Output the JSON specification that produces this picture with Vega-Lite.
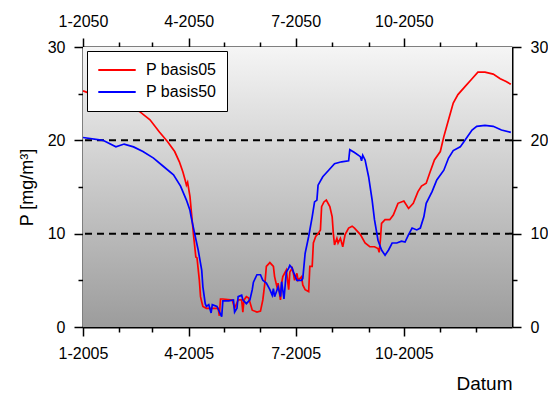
{
  "$schema": "https://vega.github.io/schema/vega-lite/v6.json",
  "width": 429,
  "height": 280,
  "autosize": {"type": "none"},
  "padding": {"left": 83, "top": 47, "right": 36, "bottom": 74},
  "background": "white",
  "config": {
    "view": {"stroke": null},
    "font": "Liberation Sans",
    "axis": {"domainColor": "black", "domainWidth": 2, "tickColor": "black", "tickWidth": 1.5, "labelColor": "black", "labelFontSize": 16, "labelFont": "Liberation Sans", "labelPadding": 9, "grid": false, "zindex": 1, "titleColor": "black", "titleFontWeight": "normal", "titleFont": "Liberation Sans", "labelFlush": false, "labelOverlap": false, "labelBound": false},
    "legend": {"orient": "top-left", "offset": 4, "symbolType": "stroke", "symbolSize": 1400, "symbolStrokeWidth": 2, "labelFontSize": 16, "labelFont": "Liberation Sans", "labelColor": "black", "labelOffset": 9, "padding": 10, "strokeColor": "black", "fillColor": "white", "rowPadding": 4, "clipHeight": 18}
  },
  "datasets": {
    "bg": [{"t0": "2005-01-01", "t1": "2006-01-01", "lo": 0, "hi": 30}],
    "ref": [{"p": 10}, {"p": 20}],
    "series": [
      {"d": "2005-01-01", "s": "P basis05", "p": 25.3},
      {"d": "2005-02-18", "s": "P basis05", "p": 23.1},
      {"d": "2005-02-27", "s": "P basis05", "p": 22.2},
      {"d": "2005-03-07", "s": "P basis05", "p": 20.9},
      {"d": "2005-03-14", "s": "P basis05", "p": 19.85},
      {"d": "2005-03-20", "s": "P basis05", "p": 18.8},
      {"d": "2005-03-24", "s": "P basis05", "p": 17.7},
      {"d": "2005-03-27", "s": "P basis05", "p": 16.6},
      {"d": "2005-03-29", "s": "P basis05", "p": 15.7},
      {"d": "2005-03-30", "s": "P basis05", "p": 15.2},
      {"d": "2005-03-31", "s": "P basis05", "p": 15.5},
      {"d": "2005-04-02", "s": "P basis05", "p": 14.0},
      {"d": "2005-04-03", "s": "P basis05", "p": 12.6},
      {"d": "2005-04-05", "s": "P basis05", "p": 9.9},
      {"d": "2005-04-07", "s": "P basis05", "p": 7.5},
      {"d": "2005-04-08", "s": "P basis05", "p": 7.4},
      {"d": "2005-04-10", "s": "P basis05", "p": 5.0},
      {"d": "2005-04-11", "s": "P basis05", "p": 3.25},
      {"d": "2005-04-12", "s": "P basis05", "p": 2.7},
      {"d": "2005-04-13", "s": "P basis05", "p": 2.2},
      {"d": "2005-04-16", "s": "P basis05", "p": 2.0},
      {"d": "2005-04-22", "s": "P basis05", "p": 2.0},
      {"d": "2005-04-26", "s": "P basis05", "p": 2.0},
      {"d": "2005-04-27", "s": "P basis05", "p": 1.2},
      {"d": "2005-04-28", "s": "P basis05", "p": 3.0},
      {"d": "2005-04-30", "s": "P basis05", "p": 3.0},
      {"d": "2005-05-08", "s": "P basis05", "p": 2.9},
      {"d": "2005-05-10", "s": "P basis05", "p": 2.0},
      {"d": "2005-05-12", "s": "P basis05", "p": 2.6},
      {"d": "2005-05-13", "s": "P basis05", "p": 2.9},
      {"d": "2005-05-16", "s": "P basis05", "p": 2.9},
      {"d": "2005-05-17", "s": "P basis05", "p": 1.6},
      {"d": "2005-05-18", "s": "P basis05", "p": 2.9},
      {"d": "2005-05-20", "s": "P basis05", "p": 3.25},
      {"d": "2005-05-22", "s": "P basis05", "p": 3.1},
      {"d": "2005-05-25", "s": "P basis05", "p": 1.8},
      {"d": "2005-05-29", "s": "P basis05", "p": 1.6},
      {"d": "2005-06-01", "s": "P basis05", "p": 1.7},
      {"d": "2005-06-03", "s": "P basis05", "p": 2.9},
      {"d": "2005-06-05", "s": "P basis05", "p": 5.0},
      {"d": "2005-06-06", "s": "P basis05", "p": 6.5},
      {"d": "2005-06-09", "s": "P basis05", "p": 6.9},
      {"d": "2005-06-12", "s": "P basis05", "p": 6.5},
      {"d": "2005-06-13", "s": "P basis05", "p": 5.4},
      {"d": "2005-06-15", "s": "P basis05", "p": 4.3},
      {"d": "2005-06-16", "s": "P basis05", "p": 4.7},
      {"d": "2005-06-18", "s": "P basis05", "p": 2.9},
      {"d": "2005-06-19", "s": "P basis05", "p": 4.7},
      {"d": "2005-06-20", "s": "P basis05", "p": 5.4},
      {"d": "2005-06-23", "s": "P basis05", "p": 6.1},
      {"d": "2005-06-25", "s": "P basis05", "p": 4.0},
      {"d": "2005-06-26", "s": "P basis05", "p": 5.9},
      {"d": "2005-06-28", "s": "P basis05", "p": 6.3},
      {"d": "2005-06-29", "s": "P basis05", "p": 5.75},
      {"d": "2005-06-30", "s": "P basis05", "p": 5.0},
      {"d": "2005-07-02", "s": "P basis05", "p": 5.75},
      {"d": "2005-07-03", "s": "P basis05", "p": 5.0},
      {"d": "2005-07-06", "s": "P basis05", "p": 5.4},
      {"d": "2005-07-07", "s": "P basis05", "p": 4.5},
      {"d": "2005-07-09", "s": "P basis05", "p": 4.0},
      {"d": "2005-07-12", "s": "P basis05", "p": 3.8},
      {"d": "2005-07-13", "s": "P basis05", "p": 6.5},
      {"d": "2005-07-15", "s": "P basis05", "p": 6.5},
      {"d": "2005-07-16", "s": "P basis05", "p": 9.0},
      {"d": "2005-07-18", "s": "P basis05", "p": 9.7},
      {"d": "2005-07-20", "s": "P basis05", "p": 10.0},
      {"d": "2005-07-22", "s": "P basis05", "p": 10.4},
      {"d": "2005-07-23", "s": "P basis05", "p": 12.9},
      {"d": "2005-07-25", "s": "P basis05", "p": 13.4},
      {"d": "2005-07-27", "s": "P basis05", "p": 13.6},
      {"d": "2005-07-30", "s": "P basis05", "p": 12.9},
      {"d": "2005-08-01", "s": "P basis05", "p": 11.8},
      {"d": "2005-08-02", "s": "P basis05", "p": 10.0},
      {"d": "2005-08-03", "s": "P basis05", "p": 8.8},
      {"d": "2005-08-05", "s": "P basis05", "p": 9.5},
      {"d": "2005-08-06", "s": "P basis05", "p": 9.0},
      {"d": "2005-08-08", "s": "P basis05", "p": 9.5},
      {"d": "2005-08-10", "s": "P basis05", "p": 8.6},
      {"d": "2005-08-12", "s": "P basis05", "p": 9.9},
      {"d": "2005-08-15", "s": "P basis05", "p": 10.6},
      {"d": "2005-08-18", "s": "P basis05", "p": 10.8},
      {"d": "2005-08-20", "s": "P basis05", "p": 10.6},
      {"d": "2005-08-25", "s": "P basis05", "p": 9.9},
      {"d": "2005-08-29", "s": "P basis05", "p": 9.0},
      {"d": "2005-09-02", "s": "P basis05", "p": 8.6},
      {"d": "2005-09-06", "s": "P basis05", "p": 8.6},
      {"d": "2005-09-09", "s": "P basis05", "p": 8.4},
      {"d": "2005-09-10", "s": "P basis05", "p": 8.0},
      {"d": "2005-09-11", "s": "P basis05", "p": 9.3},
      {"d": "2005-09-12", "s": "P basis05", "p": 11.1},
      {"d": "2005-09-15", "s": "P basis05", "p": 11.5},
      {"d": "2005-09-19", "s": "P basis05", "p": 11.5},
      {"d": "2005-09-22", "s": "P basis05", "p": 12.0},
      {"d": "2005-09-26", "s": "P basis05", "p": 13.25},
      {"d": "2005-10-01", "s": "P basis05", "p": 13.5},
      {"d": "2005-10-05", "s": "P basis05", "p": 12.7},
      {"d": "2005-10-09", "s": "P basis05", "p": 13.25},
      {"d": "2005-10-13", "s": "P basis05", "p": 14.5},
      {"d": "2005-10-16", "s": "P basis05", "p": 15.1},
      {"d": "2005-10-20", "s": "P basis05", "p": 15.4},
      {"d": "2005-10-23", "s": "P basis05", "p": 16.5},
      {"d": "2005-10-27", "s": "P basis05", "p": 17.9},
      {"d": "2005-11-01", "s": "P basis05", "p": 18.8},
      {"d": "2005-11-04", "s": "P basis05", "p": 20.4},
      {"d": "2005-11-08", "s": "P basis05", "p": 22.2},
      {"d": "2005-11-12", "s": "P basis05", "p": 24.0},
      {"d": "2005-11-16", "s": "P basis05", "p": 24.9},
      {"d": "2005-11-22", "s": "P basis05", "p": 25.75},
      {"d": "2005-11-28", "s": "P basis05", "p": 26.6},
      {"d": "2005-12-03", "s": "P basis05", "p": 27.3},
      {"d": "2005-12-09", "s": "P basis05", "p": 27.3},
      {"d": "2005-12-16", "s": "P basis05", "p": 27.1},
      {"d": "2005-12-22", "s": "P basis05", "p": 26.6},
      {"d": "2005-12-27", "s": "P basis05", "p": 26.3},
      {"d": "2005-12-31", "s": "P basis05", "p": 26.0},

      {"d": "2005-01-01", "s": "P basis50", "p": 20.3},
      {"d": "2005-01-18", "s": "P basis50", "p": 20.0},
      {"d": "2005-01-29", "s": "P basis50", "p": 19.3},
      {"d": "2005-02-05", "s": "P basis50", "p": 19.6},
      {"d": "2005-02-13", "s": "P basis50", "p": 19.3},
      {"d": "2005-02-21", "s": "P basis50", "p": 18.8},
      {"d": "2005-03-02", "s": "P basis50", "p": 18.1},
      {"d": "2005-03-10", "s": "P basis50", "p": 17.25},
      {"d": "2005-03-19", "s": "P basis50", "p": 16.3},
      {"d": "2005-03-25", "s": "P basis50", "p": 15.1},
      {"d": "2005-03-30", "s": "P basis50", "p": 13.6},
      {"d": "2005-04-02", "s": "P basis50", "p": 12.5},
      {"d": "2005-04-03", "s": "P basis50", "p": 11.8},
      {"d": "2005-04-06", "s": "P basis50", "p": 10.0},
      {"d": "2005-04-09", "s": "P basis50", "p": 8.25},
      {"d": "2005-04-12", "s": "P basis50", "p": 6.1},
      {"d": "2005-04-13", "s": "P basis50", "p": 4.3},
      {"d": "2005-04-15", "s": "P basis50", "p": 2.5},
      {"d": "2005-04-16", "s": "P basis50", "p": 2.2},
      {"d": "2005-04-18", "s": "P basis50", "p": 2.4},
      {"d": "2005-04-20", "s": "P basis50", "p": 1.5},
      {"d": "2005-04-21", "s": "P basis50", "p": 2.4},
      {"d": "2005-04-25", "s": "P basis50", "p": 2.2},
      {"d": "2005-04-29", "s": "P basis50", "p": 1.1},
      {"d": "2005-04-30", "s": "P basis50", "p": 2.8},
      {"d": "2005-05-05", "s": "P basis50", "p": 2.8},
      {"d": "2005-05-09", "s": "P basis50", "p": 2.9},
      {"d": "2005-05-10", "s": "P basis50", "p": 1.6},
      {"d": "2005-05-12", "s": "P basis50", "p": 2.0},
      {"d": "2005-05-13", "s": "P basis50", "p": 3.25},
      {"d": "2005-05-16", "s": "P basis50", "p": 3.4},
      {"d": "2005-05-17", "s": "P basis50", "p": 2.9},
      {"d": "2005-05-20", "s": "P basis50", "p": 2.5},
      {"d": "2005-05-23", "s": "P basis50", "p": 2.9},
      {"d": "2005-05-25", "s": "P basis50", "p": 4.0},
      {"d": "2005-05-26", "s": "P basis50", "p": 4.8},
      {"d": "2005-05-29", "s": "P basis50", "p": 5.6},
      {"d": "2005-06-01", "s": "P basis50", "p": 5.6},
      {"d": "2005-06-03", "s": "P basis50", "p": 5.0},
      {"d": "2005-06-06", "s": "P basis50", "p": 4.7},
      {"d": "2005-06-09", "s": "P basis50", "p": 4.0},
      {"d": "2005-06-11", "s": "P basis50", "p": 3.4},
      {"d": "2005-06-12", "s": "P basis50", "p": 4.1},
      {"d": "2005-06-13", "s": "P basis50", "p": 3.25},
      {"d": "2005-06-16", "s": "P basis50", "p": 4.3},
      {"d": "2005-06-18", "s": "P basis50", "p": 3.25},
      {"d": "2005-06-19", "s": "P basis50", "p": 4.85},
      {"d": "2005-06-21", "s": "P basis50", "p": 3.0},
      {"d": "2005-06-23", "s": "P basis50", "p": 5.9},
      {"d": "2005-06-25", "s": "P basis50", "p": 6.3},
      {"d": "2005-06-26", "s": "P basis50", "p": 6.6},
      {"d": "2005-06-28", "s": "P basis50", "p": 6.3},
      {"d": "2005-06-29", "s": "P basis50", "p": 5.9},
      {"d": "2005-07-02", "s": "P basis50", "p": 5.0},
      {"d": "2005-07-06", "s": "P basis50", "p": 5.0},
      {"d": "2005-07-07", "s": "P basis50", "p": 5.2},
      {"d": "2005-07-09", "s": "P basis50", "p": 7.9},
      {"d": "2005-07-12", "s": "P basis50", "p": 9.7},
      {"d": "2005-07-15", "s": "P basis50", "p": 11.8},
      {"d": "2005-07-17", "s": "P basis50", "p": 13.4},
      {"d": "2005-07-19", "s": "P basis50", "p": 13.6},
      {"d": "2005-07-20", "s": "P basis50", "p": 15.2},
      {"d": "2005-07-24", "s": "P basis50", "p": 16.1},
      {"d": "2005-07-29", "s": "P basis50", "p": 16.8},
      {"d": "2005-08-03", "s": "P basis50", "p": 17.5},
      {"d": "2005-08-09", "s": "P basis50", "p": 17.7},
      {"d": "2005-08-15", "s": "P basis50", "p": 17.8},
      {"d": "2005-08-16", "s": "P basis50", "p": 19.0},
      {"d": "2005-08-20", "s": "P basis50", "p": 18.7},
      {"d": "2005-08-25", "s": "P basis50", "p": 18.25},
      {"d": "2005-08-26", "s": "P basis50", "p": 17.8},
      {"d": "2005-08-27", "s": "P basis50", "p": 18.4},
      {"d": "2005-08-29", "s": "P basis50", "p": 17.9},
      {"d": "2005-09-01", "s": "P basis50", "p": 16.1},
      {"d": "2005-09-04", "s": "P basis50", "p": 13.6},
      {"d": "2005-09-06", "s": "P basis50", "p": 11.5},
      {"d": "2005-09-09", "s": "P basis50", "p": 9.3},
      {"d": "2005-09-12", "s": "P basis50", "p": 8.25},
      {"d": "2005-09-15", "s": "P basis50", "p": 7.7},
      {"d": "2005-09-18", "s": "P basis50", "p": 8.25},
      {"d": "2005-09-21", "s": "P basis50", "p": 9.0},
      {"d": "2005-09-25", "s": "P basis50", "p": 9.0},
      {"d": "2005-09-29", "s": "P basis50", "p": 9.2},
      {"d": "2005-10-02", "s": "P basis50", "p": 9.1},
      {"d": "2005-10-05", "s": "P basis50", "p": 9.9},
      {"d": "2005-10-08", "s": "P basis50", "p": 10.6},
      {"d": "2005-10-12", "s": "P basis50", "p": 10.4},
      {"d": "2005-10-15", "s": "P basis50", "p": 10.6},
      {"d": "2005-10-18", "s": "P basis50", "p": 11.8},
      {"d": "2005-10-20", "s": "P basis50", "p": 13.25},
      {"d": "2005-10-25", "s": "P basis50", "p": 14.5},
      {"d": "2005-10-29", "s": "P basis50", "p": 15.75},
      {"d": "2005-11-04", "s": "P basis50", "p": 16.8},
      {"d": "2005-11-08", "s": "P basis50", "p": 18.1},
      {"d": "2005-11-12", "s": "P basis50", "p": 18.9},
      {"d": "2005-11-18", "s": "P basis50", "p": 19.3},
      {"d": "2005-11-23", "s": "P basis50", "p": 20.2},
      {"d": "2005-11-28", "s": "P basis50", "p": 21.1},
      {"d": "2005-12-02", "s": "P basis50", "p": 21.5},
      {"d": "2005-12-09", "s": "P basis50", "p": 21.6},
      {"d": "2005-12-16", "s": "P basis50", "p": 21.5},
      {"d": "2005-12-23", "s": "P basis50", "p": 21.1},
      {"d": "2005-12-31", "s": "P basis50", "p": 20.85}
    ]
  },
  "layer": [
    {
      "data": {"name": "bg"},
      "mark": {"type": "rect", "color": {"gradient": "linear", "x1": 0, "y1": 0, "x2": 0, "y2": 1, "stops": [{"offset": 0, "color": "#f5f5f5"}, {"offset": 1, "color": "#9c9c9c"}]}},
      "encoding": {
        "x": {"field": "t0", "type": "temporal", "scale": {"type": "utc", "domain": [{"year": 2005, "month": 1, "date": 1, "utc": true}, {"year": 2006, "month": 1, "date": 1, "utc": true}]},
          "axis": {"orient": "bottom",
            "values": [{"year": 2005, "month": 1, "date": 1, "utc": true}, {"year": 2005, "month": 2, "date": 1, "utc": true}, {"year": 2005, "month": 3, "date": 1, "utc": true}, {"year": 2005, "month": 4, "date": 1, "utc": true}, {"year": 2005, "month": 5, "date": 1, "utc": true}, {"year": 2005, "month": 6, "date": 1, "utc": true}, {"year": 2005, "month": 7, "date": 1, "utc": true}, {"year": 2005, "month": 8, "date": 1, "utc": true}, {"year": 2005, "month": 9, "date": 1, "utc": true}, {"year": 2005, "month": 10, "date": 1, "utc": true}, {"year": 2005, "month": 11, "date": 1, "utc": true}, {"year": 2005, "month": 12, "date": 1, "utc": true}],
            "labelExpr": "utcmonth(datum.value) % 3 == 0 ? (utcmonth(datum.value) + 1) + '-2005' : ''",
            "tickSize": {"condition": {"test": "utcmonth(datum.value) % 3 == 0", "value": 9}, "value": 5},
            "title": "Datum", "titleAnchor": "end", "titleFontSize": 19, "titlePadding": 13}},
        "x2": {"field": "t1"},
        "y": {"field": "lo", "type": "quantitative", "scale": {"domain": [0, 30], "nice": false, "zero": false},
          "axis": {"orient": "left", "values": [0, 5, 10, 15, 20, 25, 30],
            "labelExpr": "datum.value % 10 == 0 ? datum.label : ''",
            "tickSize": {"condition": {"test": "datum.value % 10 == 0", "value": 9}, "value": 5},
            "title": "P [mg/m³]", "titleFontSize": 18, "titlePadding": 11}},
        "y2": {"field": "hi"}
      }
    },
    {
      "data": {"name": "ref"},
      "mark": {"type": "rule", "strokeDash": [7, 5], "strokeWidth": 2, "color": "black"},
      "encoding": {"y": {"field": "p", "type": "quantitative", "axis": null}}
    },
    {
      "data": {"name": "series"},
      "mark": {"type": "line", "strokeWidth": 1.7},
      "encoding": {
        "x": {"field": "d", "type": "temporal",
          "axis": {"orient": "top",
            "values": [{"year": 2005, "month": 1, "date": 1, "utc": true}, {"year": 2005, "month": 2, "date": 1, "utc": true}, {"year": 2005, "month": 3, "date": 1, "utc": true}, {"year": 2005, "month": 4, "date": 1, "utc": true}, {"year": 2005, "month": 5, "date": 1, "utc": true}, {"year": 2005, "month": 6, "date": 1, "utc": true}, {"year": 2005, "month": 7, "date": 1, "utc": true}, {"year": 2005, "month": 8, "date": 1, "utc": true}, {"year": 2005, "month": 9, "date": 1, "utc": true}, {"year": 2005, "month": 10, "date": 1, "utc": true}, {"year": 2005, "month": 11, "date": 1, "utc": true}, {"year": 2005, "month": 12, "date": 1, "utc": true}],
            "labelExpr": "utcmonth(datum.value) % 3 == 0 ? (utcmonth(datum.value) + 1) + '-2050' : ''",
            "tickSize": {"condition": {"test": "utcmonth(datum.value) % 3 == 0", "value": 9}, "value": 5},
            "title": null}},
        "y": {"field": "p", "type": "quantitative",
          "axis": {"orient": "right", "values": [0, 5, 10, 15, 20, 25, 30],
            "labelExpr": "datum.value % 10 == 0 ? datum.label : ''",
            "tickSize": {"condition": {"test": "datum.value % 10 == 0", "value": 9}, "value": 5},
            "title": null}},
        "color": {"field": "s", "type": "nominal", "scale": {"domain": ["P basis05", "P basis50"], "range": ["#ff0000", "#0000ff"]}, "legend": {"title": null}}
      }
    }
  ],
  "resolve": {"axis": {"x": "independent", "y": "independent"}}
}
